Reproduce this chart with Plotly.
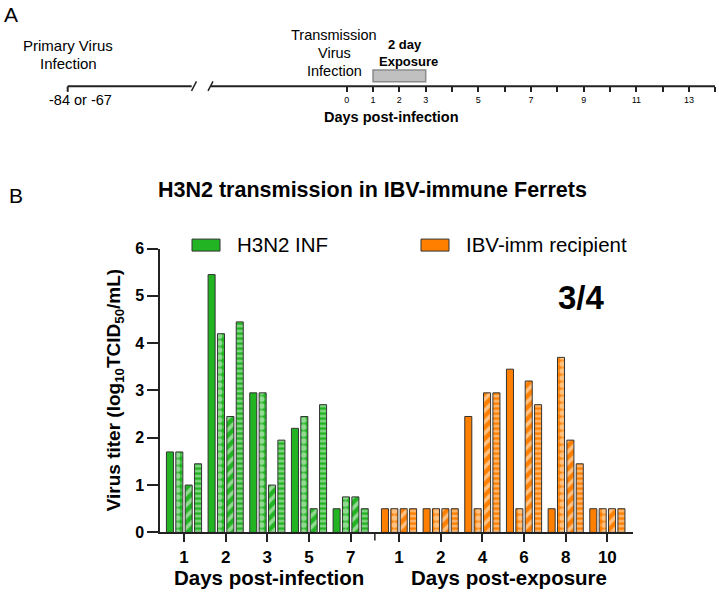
import plotly.graph_objects as go

# ---------------- data ----------------
days_inf = ["1", "2", "3", "5", "7"]
days_exp = ["1", "2", "4", "6", "8", "10"]

inf_f1 = [1.7, 5.45, 2.95, 2.2, 0.5]
inf_f2 = [1.7, 4.2, 2.95, 2.45, 0.75]
inf_f3 = [1.0, 2.45, 1.0, 0.5, 0.75]
inf_f4 = [1.45, 4.45, 1.95, 2.7, 0.5]

rec_f1 = [0.5, 0.5, 2.45, 3.45, 0.5, 0.5]
rec_f2 = [0.5, 0.5, 0.5, 0.5, 3.7, 0.5]
rec_f3 = [0.5, 0.5, 2.95, 3.2, 1.95, 0.5]
rec_f4 = [0.5, 0.5, 2.95, 2.7, 1.45, 0.5]

timeline_labelled = [0, 1, 2, 3, 5, 7, 9, 11, 13]
timeline_labels = ["0", "1", "2", "3", "5", "7", "9", "11", "13"]

# ---------------- layout helpers ----------------
W, H = 719, 592
FONT = "Arial, Liberation Sans, sans-serif"
GREEN = "#22b422"
ORANGE = "#ff8000"
EDGE = "#333333"

# the photographed page shows the figure at y_shown = TOP + SQ * y_fig
TOP, SQ = 8.0, 0.973


def px(x):
    return x / W


def py(y):
    return 1 - ((y - TOP) / SQ) / H


GAP = 5.16  # position of first recipient group
x_inf = [i for i in range(len(days_inf))]
x_exp = [GAP + j for j in range(len(days_exp))]
sep = (x_inf[-1] + x_exp[0]) / 2

patterns = [
    dict(shape=""),
    dict(shape=".", fgcolor="white", size=7, solidity=0.55),
    dict(shape="/", fgcolor="white", size=8, solidity=0.45),
    dict(shape="-", fgcolor="white", size=5, solidity=0.45),
]

fig = go.Figure()
for k, (vals_i, vals_r) in enumerate(zip([inf_f1, inf_f2, inf_f3, inf_f4],
                                         [rec_f1, rec_f2, rec_f3, rec_f4])):
    fig.add_trace(go.Bar(x=x_inf, y=vals_i, offsetgroup=str(k),
                         marker=dict(color=GREEN, line=dict(color=EDGE, width=1),
                                     pattern=patterns[k]),
                         showlegend=False, xaxis="x", yaxis="y"))
    fig.add_trace(go.Bar(x=x_exp, y=vals_r, offsetgroup=str(k),
                         marker=dict(color=ORANGE, line=dict(color=EDGE, width=1),
                                     pattern=patterns[k]),
                         showlegend=False, xaxis="x", yaxis="y"))

# invisible trace on the timeline axis so it renders
fig.add_trace(go.Scatter(x=[0, 14], y=[0, 0], mode="markers", marker=dict(opacity=0),
                         showlegend=False, hoverinfo="skip", xaxis="x2", yaxis="y2"))

unit = 41.67
first_center_pix = 184
xmin = -(first_center_pix - 160) / unit
xmax = xmin + (633 - 160) / unit

day0_pix, per_day = 346.7, 26.33
tl_left, tl_right = 340, 719

fig.update_layout(
    width=W, height=H,
    margin=dict(l=0, r=0, t=0, b=0),
    paper_bgcolor="white", plot_bgcolor="white",
    font=dict(family=FONT, color="black"),
    barmode="group", bargap=0.1, bargroupgap=0.25,
    xaxis=dict(domain=[px(160), px(633)], range=[xmin, xmax],
               tickvals=x_inf + x_exp,
               ticktext=days_inf + days_exp,
               ticks="outside", ticklen=8, tickwidth=1.5, tickcolor="#222",
               showline=True, linecolor="#222", linewidth=1.5,
               showgrid=False, zeroline=False,
               tickfont=dict(size=17, weight="bold", family=FONT), anchor="y"),
    yaxis=dict(domain=[py(533.3), py(249)], range=[0, 6], dtick=1,
               ticks="outside", ticklen=11, tickwidth=1.5, tickcolor="#222",
               showline=True, linecolor="#222", linewidth=1.5,
               showgrid=False, zeroline=False,
               tickfont=dict(size=16, weight="bold", family=FONT), anchor="x"),
    xaxis2=dict(domain=[px(tl_left), px(tl_right)],
                range=[(tl_left - day0_pix) / per_day, (tl_right - day0_pix) / per_day],
                tickvals=timeline_labelled, ticktext=timeline_labels,
                ticks="outside", ticklen=5, tickwidth=2, tickcolor="#222",
                minor=dict(ticks="outside", ticklen=5, tickwidth=2, tickcolor="#222",
                           dtick=1, tick0=0, showgrid=False),
                showline=False, showgrid=False, zeroline=False,
                tickfont=dict(size=9, family=FONT), anchor="y2"),
    yaxis2=dict(domain=[py(86.5), py(40)], range=[0, 1], visible=False, anchor="x2"),
)

shapes = []
LW = 2
# timeline
shapes.append(dict(type="line", xref="paper", yref="paper", x0=px(67.7), x1=px(191.7),
                   y0=py(86.5), y1=py(86.5), line=dict(color="#222", width=LW)))
shapes.append(dict(type="line", xref="paper", yref="paper", x0=px(67.7), x1=px(67.7),
                   y0=py(86.5), y1=py(92), line=dict(color="#222", width=LW)))
shapes.append(dict(type="line", xref="paper", yref="paper", x0=px(191.5), x1=px(196.5),
                   y0=py(91), y1=py(81.5), line=dict(color="#222", width=1.5)))
shapes.append(dict(type="line", xref="paper", yref="paper", x0=px(208), x1=px(213),
                   y0=py(91), y1=py(81.5), line=dict(color="#222", width=1.5)))
shapes.append(dict(type="line", xref="paper", yref="paper", x0=px(211), x1=px(715),
                   y0=py(86.5), y1=py(86.5), line=dict(color="#222", width=LW)))
# exposure box
shapes.append(dict(type="rect", xref="x2", yref="paper", x0=1, x1=3,
                   y0=py(82), y1=py(70), fillcolor="#c0c0c0",
                   line=dict(color="#8a8a8a", width=1.5)))
# group separator tick on main x axis
shapes.append(dict(type="line", xref="x", yref="paper", x0=sep, x1=sep,
                   y0=py(533.3), y1=py(541.5), line=dict(color="#222", width=1.5)))
# legend swatches
shapes.append(dict(type="rect", xref="paper", yref="paper", x0=px(192), x1=px(220),
                   y0=py(251.5), y1=py(239.5), fillcolor=GREEN,
                   line=dict(color=EDGE, width=1)))
shapes.append(dict(type="rect", xref="paper", yref="paper", x0=px(421), x1=px(449),
                   y0=py(251.5), y1=py(239.5), fillcolor=ORANGE,
                   line=dict(color=EDGE, width=1)))
fig.update_layout(shapes=shapes)

ann = []


def text(x, y, t, size, bold=False, xanchor="center", yanchor="middle", angle=0):
    ann.append(dict(x=px(x), y=py(y), xref="paper", yref="paper", text=t,
                    showarrow=False, xanchor=xanchor, yanchor=yanchor,
                    textangle=angle, borderpad=0,
                    font=dict(size=size, family=FONT, color="black",
                              weight="bold" if bold else "normal")))


text(3, 15, "A", 21, xanchor="left")
text(68, 46, "Primary Virus", 15)
text(68, 63.5, "Infection", 15)
text(48, 100, "-84 or -67", 14.5, xanchor="left")
text(334, 35, "Transmission", 14.5)
text(334, 53, "Virus", 14.5)
text(334, 71, "Infection", 14.5)
text(405, 45, "2 day", 13, bold=True)
text(408, 62, "Exposure", 13, bold=True)
text(391, 117, "Days post-infection", 14.5, bold=True)

text(8, 196, "B", 21, xanchor="left")
text(372, 190, "H3N2 transmission in IBV-immune Ferrets", 21.5, bold=True)
text(236, 245, "H3N2 INF", 20.5, xanchor="left")
text(465, 245, "IBV-imm recipient", 20.5, xanchor="left")
text(581, 298, "3/4", 33, bold=True)
text(115, 391, "Virus titer (log<sub>10</sub>TCID<sub>50</sub>/mL)", 19, bold=True, angle=-90)
text(269, 579, "Days post-infection", 20.5, bold=True)
text(509, 579, "Days post-exposure", 20.5, bold=True)

fig.update_layout(annotations=ann)

fig.write_html("out.html", config={"displayModeBar": False},
               post_script="document.body.style.margin='0';document.body.style.overflow='hidden';")
